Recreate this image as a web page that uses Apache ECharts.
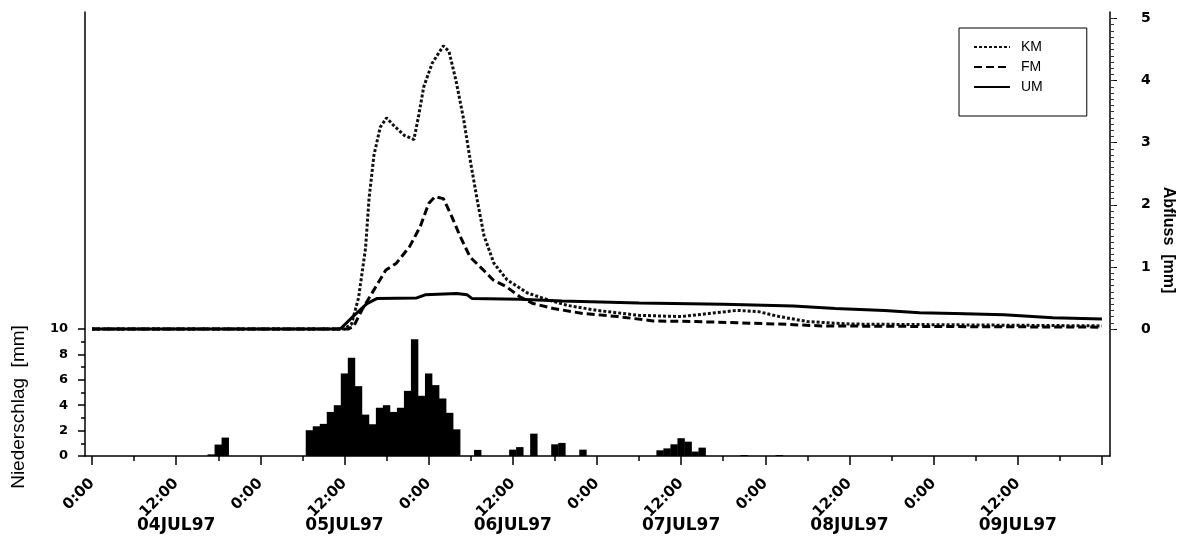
<!DOCTYPE html>
<html>
<head>
<meta charset="utf-8">
<script src="https://cdn.jsdelivr.net/npm/echarts@6/dist/echarts.min.js"></script>
<style>html,body{margin:0;padding:0;background:#fff}#c{width:1182px;height:551px}</style>
</head>
<body>
<div id="c"></div>
<script>
// ---- data (x values are hours since 04JUL97 0:00) ----
const dateLabels = ['04JUL97','05JUL97','06JUL97','07JUL97','08JUL97','09JUL97'];
const timeTicks = [0,12,24,36,48,60,72,84,96,108,120,132,144];
const timeLabelValues = [0,12,24,36,48,60,72,84,96,108,120,132];
const minorTimeTicks = [6,18,30,42,54,66,78,90,102,114,126,138];
const dateLabelValues = [12,36,60,84,108,132];

const rainHours = [17,18,19,31,32,33,34,35,36,37,38,39,40,41,42,43,44,45,46,47,48,49,50,51,52,55,60,61,63,66,67,70,81,82,83,84,85,86,87,93,98];
const rainValues = [0.13,0.9,1.45,2.03,2.34,2.53,3.47,4.0,6.5,7.74,5.5,3.26,2.5,3.8,4.0,3.47,3.8,5.13,9.2,4.74,6.5,5.58,4.53,3.4,2.1,0.48,0.5,0.7,1.76,0.92,1.03,0.5,0.45,0.6,0.92,1.4,1.13,0.35,0.66,0.08,0.08];

const kmHours  = [0,36,37,38,39,39.5,40.2,41.1,42,43,44.5,45.9,46.6,47.3,48.5,50.1,50.9,51.9,53,54,55,55.9,57.3,59.2,62.1,65,67.8,72,78,84,88,92,95,98,102,108,120,132,144];
const kmValues = [0,0,0.08,0.5,1.3,2.1,2.8,3.25,3.4,3.28,3.12,3.05,3.45,3.9,4.28,4.56,4.47,4.0,3.37,2.67,2.03,1.5,1.06,0.79,0.58,0.47,0.38,0.3,0.22,0.2,0.25,0.3,0.28,0.2,0.12,0.08,0.07,0.06,0.05];

const fmHours  = [0,36.5,37.3,38.5,40.2,41.9,43.4,45.3,46.8,48,48.9,50.1,51.3,52.5,53.9,55.8,57.2,59.1,61,62.9,65.8,70,75,80,86,92,98,104,120,144];
const fmValues = [0,0,0.04,0.31,0.63,0.95,1.06,1.33,1.65,2.02,2.13,2.1,1.81,1.49,1.16,0.95,0.79,0.68,0.52,0.41,0.33,0.25,0.2,0.13,0.12,0.1,0.08,0.05,0.04,0.03];

const umHours  = [0,35.4,37.2,39.2,40.6,46.3,47.5,52,53.5,54.2,61,67,78,90,100,106,113,118,123,130,137,144];
const umValues = [0,0,0.2,0.41,0.49,0.5,0.55,0.57,0.55,0.49,0.48,0.45,0.42,0.4,0.37,0.33,0.3,0.26,0.25,0.23,0.18,0.16];

const rainLabels = [0,2,4,6,8,10];
const rainMinor = [1,3,5,7,9];
const flowLabels = [0,1,2,3,4,5];
const flowMinor = Array.from({length:51},(_,i)=>i/10);

const zip = (a,b)=>a.map((v,i)=>[v,b[i]]);
const black = '#000';
const lblFont = {fontFamily:'DejaVu Sans', fontWeight:'bold', color:black};

const chart = echarts.init(document.getElementById('c'), null, {renderer:'canvas'});
const xBase = {type:'value', min:-1, max:145.15, gridIndex:0, position:'bottom', splitLine:{show:false}};
const yRain = {type:'value', min:0, max:34.96, position:'left', splitLine:{show:false}};
const yFlow = {type:'value', min:-2.045, max:5.105, position:'right', splitLine:{show:false}};

chart.setOption({
  animation:false,
  backgroundColor:'#fff',
  grid:{left:85, right:72, top:12, bottom:95},
  legend:{
    left:959, top:28, orient:'vertical',
    data:['KM','FM','UM'],
    itemWidth:36, itemHeight:14, itemGap:6,
    padding:[12,44,22,14],
    borderColor:black, borderWidth:1,
    itemStyle:{opacity:0},
    textStyle:{fontFamily:'Liberation Sans', fontSize:14, color:black, padding:[0,0,0,6]}
  },
  xAxis:[
    Object.assign({}, xBase, {
      axisLine:{show:true, onZero:false, lineStyle:{color:black, width:1.5}},
      axisTick:{show:true, customValues:timeTicks, length:9, lineStyle:{color:black, width:1.5}},
      axisLabel:Object.assign({customValues:timeLabelValues, rotate:45, margin:25, fontSize:15,
        formatter:v=>(Math.round(v)%24===0?'0:00':'12:00')}, lblFont)
    }),
    Object.assign({}, xBase, {
      axisLine:{show:false, onZero:false},
      axisTick:{show:true, customValues:minorTimeTicks, length:5, lineStyle:{color:black, width:1.5}},
      axisLabel:{show:false}
    }),
    Object.assign({}, xBase, {
      axisLine:{show:false, onZero:false},
      axisTick:{show:false},
      axisLabel:Object.assign({customValues:dateLabelValues, margin:61, fontSize:17,
        formatter:v=>dateLabels[Math.round((v-12)/24)]}, lblFont)
    })
  ],
  yAxis:[
    Object.assign({}, yRain, {
      axisLine:{show:true, onZero:false, lineStyle:{color:black, width:1.5}},
      axisTick:{show:true, customValues:rainLabels, length:7, lineStyle:{color:black, width:1.5}},
      axisLabel:Object.assign({customValues:rainLabels, margin:17, fontSize:13}, lblFont)
    }),
    Object.assign({}, yRain, {
      axisLine:{show:false, onZero:false},
      axisTick:{show:true, customValues:rainMinor, length:4, lineStyle:{color:black, width:1.5}},
      axisLabel:{show:false}
    }),
    Object.assign({}, yFlow, {
      axisLine:{show:true, onZero:false, lineStyle:{color:black, width:1.5}},
      axisTick:{show:true, customValues:flowLabels, length:7, lineStyle:{color:black, width:1}},
      axisLabel:Object.assign({customValues:flowLabels, margin:31, fontSize:14}, lblFont)
    }),
    Object.assign({}, yFlow, {
      axisLine:{show:false, onZero:false},
      axisTick:{show:true, customValues:flowMinor, length:4, lineStyle:{color:'#333', width:1}},
      axisLabel:{show:false}
    })
  ],
  graphic:[
    {type:'text', x:19, y:407, rotation:Math.PI/2,
     style:{text:'Niederschlag  [mm]', fontFamily:'Liberation Sans', fontSize:19, fill:black, align:'center', verticalAlign:'middle'}},
    {type:'text', x:1168, y:240, rotation:-Math.PI/2,
     style:{text:'Abfluss  [mm]', fontFamily:'Liberation Sans', fontWeight:'bold', fontSize:16, fill:black, align:'center', verticalAlign:'middle'}}
  ],
  series:[
    {name:'Niederschlag', type:'bar', xAxisIndex:0, yAxisIndex:0, data:zip(rainHours, rainValues),
     barWidth:7.4, itemStyle:{color:black}, silent:true},
    {name:'KM', type:'line', xAxisIndex:0, yAxisIndex:2, data:zip(kmHours, kmValues), symbol:'none',
     lineStyle:{color:'#111', width:3, type:[3,2]}, itemStyle:{color:'#111'}},
    {name:'FM', type:'line', xAxisIndex:0, yAxisIndex:2, data:zip(fmHours, fmValues), symbol:'none',
     lineStyle:{color:black, width:3, type:[8,4]}, itemStyle:{color:black}},
    {name:'UM', type:'line', xAxisIndex:0, yAxisIndex:2, data:zip(umHours, umValues), symbol:'none',
     lineStyle:{color:black, width:3}, itemStyle:{color:black}}
  ]
});
</script>
</body>
</html>
